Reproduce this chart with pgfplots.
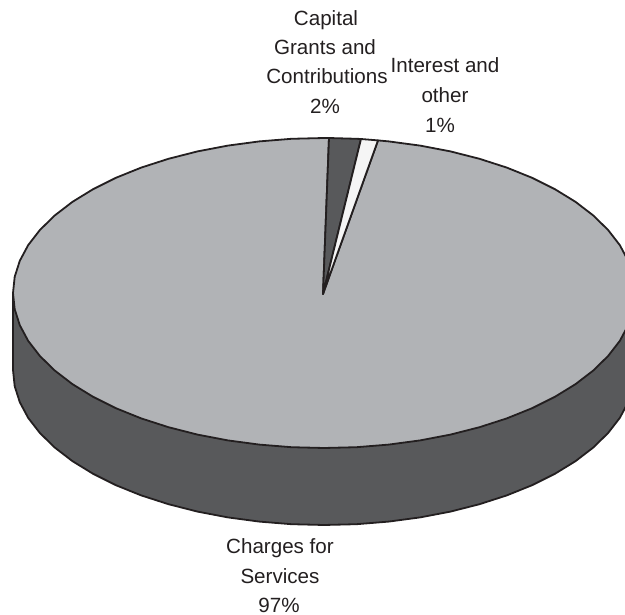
\documentclass[border=0pt]{standalone}
\usepackage{fontspec}
\setmainfont{Liberation Sans}
\usepackage{pgfplots}
\pgfplotsset{compat=1.18}
\definecolor{surface}{HTML}{B1B3B6}
\definecolor{wall}{HTML}{58595B}
\definecolor{capital}{HTML}{58595B}
\definecolor{interest}{HTML}{F5F5F5}
\definecolor{ink}{HTML}{231F20}
\tikzset{lbl/.style={anchor=base, text=ink, font=\fontsize{20.6}{25}\selectfont, inner sep=0pt}}
\begin{document}
\begin{tikzpicture}
\useasboundingbox (0,0) rectangle (625pt,615pt);
\begin{axis}[
  at={(0,0)}, anchor=south west,
  scale only axis, width=625pt, height=615pt,
  xmin=0, xmax=625, ymin=0, ymax=615, y dir=reverse,
  hide axis, clip mode=global,
  every axis plot/.append style={draw=ink, line width=1.8pt, line join=round, mark=none},
]
% Outer wall of the disc, below the top surface
\addplot[fill=wall] coordinates {
  (13,293) (13,370) (14.7,386.2) (19.8,402.2) (28.2,417.9) (39.9,433) (54.7,447.5)
  (72.4,461.1) (92.9,473.7) (115.9,485.2) (141.2,495.4) (168.5,504.2) (197.5,511.6)
  (227.9,517.4) (259.3,521.6) (291.5,524.2) (324,525) (356.5,524.2) (388.7,521.6)
  (420.1,517.4) (450.5,511.6) (479.5,504.2) (506.8,495.4) (532.1,485.2) (555.1,473.7)
  (575.6,461.1) (593.3,447.5) (608.1,433) (619.8,417.9) (628.2,402.2) (633.3,386.2)
  (635,370) (635,293)
} -- cycle;
% Charges for Services, 97%
\addplot[fill=surface] coordinates {
  (323,294) (378,140.4) (388.7,141.4) (420.1,145.6) (450.5,151.4) (479.5,158.8)
  (506.8,167.6) (532.1,177.8) (555.1,189.3) (575.6,201.9) (593.3,215.5) (608.1,230)
  (619.8,245.1) (628.2,260.8) (633.3,276.8) (635,293) (633.3,309.2) (628.2,325.2)
  (619.8,340.9) (608.1,356) (593.3,370.5) (575.6,384.1) (555.1,396.7) (532.1,408.2)
  (506.8,418.4) (479.5,427.2) (450.5,434.6) (420.1,440.4) (388.7,444.6) (356.5,447.2)
  (324,448) (291.5,447.2) (259.3,444.6) (227.9,440.4) (197.5,434.6) (168.5,427.2)
  (141.2,418.4) (115.9,408.2) (92.9,396.7) (72.4,384.1) (54.7,370.5) (39.9,356)
  (28.2,340.9) (19.8,325.2) (14.7,309.2) (13,293) (14.7,276.8) (19.8,260.8)
  (28.2,245.1) (39.9,230) (54.7,215.5) (72.4,201.9) (92.9,189.3) (115.9,177.8)
  (141.2,167.6) (168.5,158.8) (197.5,151.4) (227.9,145.6) (259.3,141.4) (291.5,138.8)
  (324,138) (329,138)
} -- cycle;
% Capital Grants and Contributions, 2%
\addplot[fill=capital] coordinates {(323,294) (329,138) (356.5,138.8) (361,139)} -- cycle;
% Interest and other, 1%
\addplot[fill=interest] coordinates {(323,294) (361,139) (378,140.4)} -- cycle;

\node[lbl] at (axis cs:326,26) {Capital};
\node[lbl] at (axis cs:325,55) {Grants and};
\node[lbl] at (axis cs:327,84) {Contributions};
\node[lbl] at (axis cs:325,114) {2\%};
\node[lbl] at (axis cs:445,73) {Interest and};
\node[lbl] at (axis cs:445,103) {other};
\node[lbl] at (axis cs:440,133) {1\%};
\node[lbl] at (axis cs:280,553) {Charges for};
\node[lbl] at (axis cs:280,583) {Services};
\node[lbl] at (axis cs:279,612) {97\%};
\end{axis}
\end{tikzpicture}
\end{document}
